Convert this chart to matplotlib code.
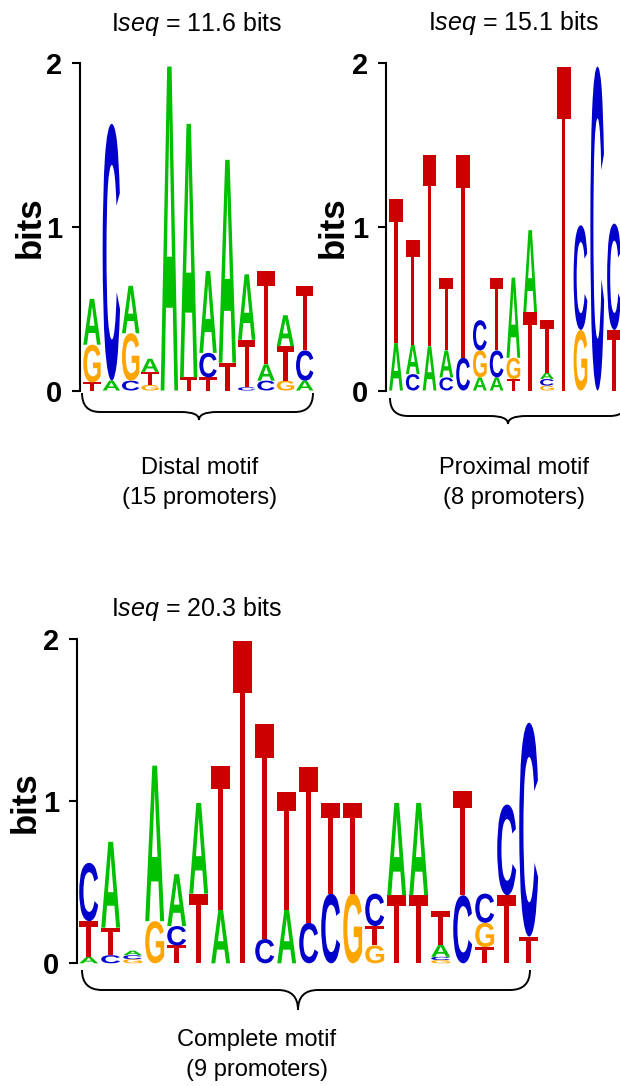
import matplotlib
matplotlib.use("Agg")
import matplotlib.pyplot as plt
import matplotlib.transforms as mtransforms
from matplotlib.textpath import TextPath
from matplotlib.patches import PathPatch
from matplotlib.path import Path
from matplotlib.font_manager import FontProperties

plt.rcParams['font.family'] = ['Liberation Sans', 'DejaVu Sans']
plt.rcParams['mathtext.fontset'] = 'custom'
plt.rcParams['mathtext.rm'] = 'Liberation Sans'
plt.rcParams['mathtext.it'] = 'Liberation Sans:italic'

W, H = 620, 1086

# letter stacks per position, bottom -> top, with heights in bits
distal_letters = ["TGA", "AC", "CGA", "GTA", "A", "TA", "TCA", "TA",
                  "CTA", "CAT", "GTA", "ACT"]
distal_bits = [[0.05, 0.23, 0.28], [0.06, 1.57], [0.06, 0.29, 0.29],
               [0.034, 0.08, 0.08], [1.98], [0.08, 1.55], [0.08, 0.15, 0.50],
               [0.17, 1.24], [0.02, 0.29, 0.40], [0.06, 0.10, 0.57],
               [0.06, 0.21, 0.19], [0.06, 0.185, 0.395]]

proximal_letters = ["AT", "CAT", "AT", "CAT", "CT", "AGC", "ACT", "TGA",
                    "TA", "GCAT", "T", "GC", "C", "TC"]
proximal_bits = [[0.29, 0.88], [0.10, 0.18, 0.64], [0.27, 1.17],
                 [0.08, 0.165, 0.445], [0.20, 1.24], [0.08, 0.165, 0.185],
                 [0.08, 0.165, 0.445], [0.07, 0.13, 0.49], [0.48, 0.50],
                 [0.03, 0.04, 0.04, 0.32], [1.98], [0.37, 0.64], [1.98],
                 [0.37, 0.65]]

complete_letters = ["ATC", "CTA", "GCA", "GA", "TCA", "TA", "AT", "T", "CT",
                    "AT", "CT", "CT", "GT", "GTC", "TA", "TA", "GCAT", "CT",
                    "TGC", "TC", "TC"]
complete_bits = [[0.04, 0.22, 0.36], [0.05, 0.17, 0.53], [0.025, 0.025, 0.028],
                 [0.26, 0.96], [0.11, 0.12, 0.32], [0.43, 0.56], [0.33, 0.89],
                 [1.99], [0.15, 1.33], [0.33, 0.73], [0.25, 0.96], [0.43, 0.56],
                 [0.43, 0.56], [0.11, 0.12, 0.20], [0.42, 0.57], [0.42, 0.57],
                 [0.02, 0.02, 0.075, 0.205], [0.42, 0.645], [0.10, 0.15, 0.18],
                 [0.42, 0.56], [0.165, 1.32]]

titles = ["11.6", "15.1", "20.3"]
motif_names = ["Distal motif", "Proximal motif", "Complete motif"]
promoters = ["(15 promoters)", "(8 promoters)", "(9 promoters)"]

colors = {"A": "#00c000", "C": "#0000cc", "G": "#ffa500", "T": "#cc0000"}
letter_font = FontProperties(family="Liberation Sans", weight="bold")


def draw_letter(ax, ch, x0, y0, w, h):
    tp = TextPath((0, 0), ch, size=1, prop=letter_font)
    bb = tp.get_extents()
    t = (mtransforms.Affine2D().translate(-bb.x0, -bb.y0)
         .scale(w / bb.width, h / bb.height).translate(x0, y0))
    ax.add_patch(PathPatch(t.transform_path(tp), fc=colors[ch], ec="none",
                           lw=0, clip_on=False))


def draw_logo(ax, letters, bits, width):
    for i, (seq, hs) in enumerate(zip(letters, bits)):
        y = 0
        for ch, h in zip(seq, hs):
            draw_letter(ax, ch, i + 1 - width / 2, y, width, h)
            y += h


fig = plt.figure(figsize=(W / 100, H / 100), dpi=100)
pix = mtransforms.Affine2D().scale(1 / W, -1 / H).translate(0, 1) + fig.transFigure


def logo_axes(axis_x, first_x, step, right_x, y0, y2):
    ax = fig.add_axes([axis_x / W, 1 - y0 / H, (right_x - axis_x) / W, (y0 - y2) / H])
    ax.set_xlim(1 - (first_x - axis_x) / step, 1 + (right_x - first_x) / step)
    ax.set_ylim(0, 2)
    for s in ["top", "right", "bottom"]:
        ax.spines[s].set_visible(False)
    ax.spines["left"].set_linewidth(1.5)
    ax.set_xticks([])
    ax.set_yticks([0, 1, 2])
    ax.set_yticklabels(["0", "1", "2"], fontsize=21, fontweight="bold")
    ax.tick_params(axis="y", length=6, width=1.5, pad=7)
    return ax


def brace(x0, x1, xm, ytop, ymid, ytip, r):
    verts = [(x0, ytop), (x0, ymid), (x0 + r, ymid), (xm - r, ymid),
             (xm, ymid), (xm, ytip), (xm, ymid), (xm + r, ymid),
             (x1 - r, ymid), (x1, ymid), (x1, ytop)]
    codes = [Path.MOVETO, Path.CURVE3, Path.CURVE3, Path.LINETO,
             Path.CURVE3, Path.CURVE3, Path.CURVE3, Path.CURVE3,
             Path.LINETO, Path.CURVE3, Path.CURVE3]
    fig.patches.append(PathPatch(Path(verts, codes), fc="none", ec="black",
                                 lw=1.4, transform=pix, figure=fig))


ax1 = logo_axes(80, 92, 19.34, 318, 390.5, 63.3)
draw_logo(ax1, distal_letters, distal_bits, 0.9)
ax2 = logo_axes(386, 396, 16.77, 640, 390.5, 63.3)
draw_logo(ax2, proximal_letters, proximal_bits, 0.82)
ax3 = logo_axes(77.3, 88.7, 22.0, 545, 963.3, 639.3)
draw_logo(ax3, complete_letters, complete_bits, 0.86)

for x, y in [(30, 227), (333, 227), (25, 802)]:
    fig.text(x / W, 1 - y / H, "bits", rotation=90, fontsize=25,
             fontweight="bold", ha="center", va="center")

for (x, y), val in zip([(197, 31), (514, 30), (197, 616)], titles):
    fig.text(x / W, 1 - y / H, "I$\\mathit{seq}$ = " + val + " bits",
             fontsize=18, ha="center", va="baseline")

for (x, y), name, prom in zip([(200, 468), (514, 468), (257, 1040)],
                              motif_names, promoters):
    fig.text(x / W, 1 - y / H, name, fontsize=17, ha="center", va="center")
    fig.text(x / W, 1 - (y + 30) / H, prom, fontsize=17, ha="center", va="center")

brace(82, 313, 199, 393, 412, 420, 18)
brace(390, 628, 508, 398, 416, 424, 18)
brace(82, 530, 298, 970, 990, 1010, 20)

fig.savefig("out.png", dpi=100)
